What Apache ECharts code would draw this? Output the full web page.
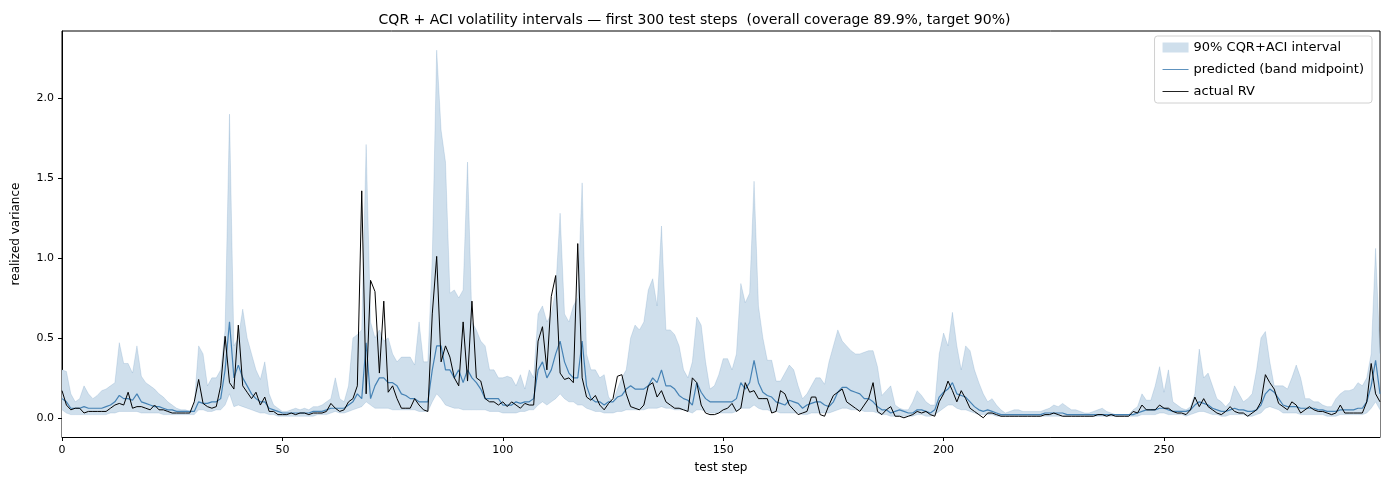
<!DOCTYPE html>
<html>
<head>
<meta charset="utf-8">
<script src="https://cdn.jsdelivr.net/npm/echarts@6/dist/echarts.min.js"></script>
<style>html,body{margin:0;padding:0;background:#fff}#chart{width:1389px;height:490px}</style>
</head>
<body>
<div id="chart"></div>
<script>
const actualRV = [
  .17,.08,.05,.06,.06,.03,.04,.04,.04,.04, .04,.06,.08,.09,.08,.16,.06,.07,.07,.06,
  .05,.08,.05,.05,.04,.03,.03,.03,.03,.03, .10,.24,.09,.07,.06,.07,.20,.51,.22,.18,
  .58,.20,.16,.12,.16,.08,.13,.04,.04,.02, .02,.02,.03,.02,.03,.03,.02,.03,.03,.03,
  .04,.09,.06,.04,.05,.10,.12,.20,1.42,.15, .86,.79,.28,.73,.16,.20,.12,.06,.06,.06,
  .12,.08,.05,.04,.65,1.01,.35,.45,.38,.25, .20,.60,.23,.73,.25,.23,.12,.10,.10,.08,
  .10,.07,.10,.08,.06,.09,.08,.08,.48,.57, .30,.76,.89,.28,.24,.25,.22,1.09,.25,.13,
  .11,.14,.08,.05,.09,.12,.26,.27,.15,.07, .06,.05,.08,.20,.22,.13,.17,.10,.08,.06,
  .06,.05,.04,.25,.22,.08,.03,.02,.02,.03, .05,.06,.09,.04,.06,.22,.16,.17,.12,.12,
  .12,.03,.04,.17,.15,.08,.05,.02,.03,.04, .13,.13,.02,.01,.08,.14,.16,.18,.10,.08,
  .06,.04,.08,.12,.22,.04,.02,.05,.07,.01, .01,.00,.01,.02,.04,.03,.04,.02,.01,.10,
  .15,.23,.17,.10,.17,.12,.06,.04,.02,.00, .03,.03,.02,.01,.01,.01,.01,.01,.01,.01,
  .01,.01,.01,.02,.02,.03,.02,.01,.01,.01, .01,.01,.01,.01,.01,.02,.02,.01,.02,.01,
  .01,.01,.01,.04,.03,.08,.05,.05,.05,.08, .06,.06,.04,.03,.03,.02,.05,.13,.07,.12,
  .07,.05,.03,.02,.04,.07,.04,.03,.03,.01, .03,.05,.10,.27,.22,.18,.09,.07,.05,.10,
  .08,.03,.05,.07,.05,.04,.04,.03,.02,.03, .08,.03,.03,.03,.03,.03,.10,.34,.15,.10
];
const predicted = [
  .12,.10,.06,.06,.06,.07,.06,.06,.06,.06, .07,.08,.10,.14,.12,.12,.11,.15,.10,.09,
  .08,.07,.07,.06,.05,.05,.04,.04,.04,.04, .04,.10,.09,.09,.10,.10,.12,.30,.60,.25,
  .33,.25,.20,.15,.12,.10,.10,.06,.05,.04, .03,.03,.03,.03,.03,.03,.03,.04,.04,.04,
  .05,.06,.06,.06,.06,.08,.10,.15,.12,.47, .12,.20,.25,.25,.22,.22,.20,.15,.14,.12,
  .12,.10,.10,.10,.30,.45,.45,.30,.30,.25, .30,.22,.30,.25,.22,.18,.12,.12,.12,.12,
  .08,.08,.08,.10,.09,.10,.10,.12,.30,.35, .25,.30,.40,.48,.35,.28,.25,.25,.48,.20,
  .12,.10,.10,.08,.10,.10,.13,.14,.18,.20, .18,.18,.18,.20,.25,.22,.30,.20,.20,.18,
  .14,.12,.11,.08,.22,.16,.12,.10,.10,.10, .10,.10,.10,.12,.22,.18,.22,.36,.22,.16,
  .14,.13,.10,.09,.08,.11,.10,.09,.06,.08, .09,.10,.10,.08,.07,.10,.16,.19,.19,.17,
  .16,.15,.12,.12,.10,.07,.05,.05,.03,.04, .05,.04,.03,.03,.05,.05,.04,.03,.05,.13,
  .16,.18,.22,.15,.14,.13,.10,.07,.05,.04, .05,.04,.03,.02,.02,.02,.02,.02,.02,.02,
  .02,.02,.02,.03,.03,.03,.03,.03,.02,.02, .02,.02,.02,.02,.02,.02,.02,.02,.02,.02,
  .02,.02,.02,.02,.03,.04,.05,.05,.05,.06, .06,.05,.04,.04,.04,.04,.05,.08,.10,.09,
  .08,.06,.05,.04,.04,.05,.06,.05,.05,.04, .04,.05,.08,.15,.18,.16,.12,.08,.07,.07,
  .07,.06,.06,.06,.06,.05,.05,.04,.04,.04, .05,.05,.05,.05,.06,.06,.10,.20,.36,.15
];
const upperBand = [
  .30,.29,.15,.10,.12,.20,.15,.12,.14,.17, .18,.20,.22,.47,.34,.34,.28,.45,.26,.22,
  .20,.18,.15,.13,.10,.08,.06,.05,.05,.04, .08,.45,.40,.20,.25,.25,.30,.55,1.90,.45,
  .50,.68,.50,.40,.30,.24,.35,.15,.08,.06, .04,.04,.05,.06,.05,.06,.05,.07,.07,.08,
  .10,.12,.25,.12,.10,.20,.50,.52,.55,1.71, .60,.50,.55,.48,.50,.40,.35,.38,.38,.38,
  .33,.60,.35,.35,1.00,2.30,1.80,1.60,.78,.80, .75,.80,1.60,.60,.55,.48,.45,.30,.30,.25,
  .25,.26,.25,.20,.27,.18,.30,.25,.65,.70, .60,.65,.80,1.28,.65,.60,.70,.75,1.47,.40,
  .30,.30,.25,.27,.13,.10,.18,.25,.30,.50, .58,.55,.60,.80,.87,.70,1.20,.55,.55,.52,
  .45,.30,.25,.35,.63,.58,.35,.18,.20,.27, .37,.37,.30,.40,.84,.72,.78,1.48,.70,.50,
  .36,.36,.23,.23,.28,.33,.30,.20,.12,.15, .20,.25,.25,.21,.35,.45,.55,.48,.45,.42,
  .40,.40,.41,.42,.42,.32,.14,.17,.20,.08, .06,.05,.05,.10,.17,.14,.10,.08,.08,.40,
  .53,.45,.66,.45,.30,.45,.42,.30,.22,.15, .10,.12,.08,.05,.03,.04,.05,.05,.04,.04,
  .04,.04,.04,.05,.06,.08,.07,.09,.07,.05, .05,.04,.03,.03,.04,.05,.06,.04,.03,.02,
  .02,.02,.02,.05,.07,.15,.11,.11,.20,.32, .16,.30,.10,.08,.06,.05,.07,.15,.43,.25,
  .28,.20,.12,.10,.07,.10,.20,.15,.10,.12, .15,.30,.50,.54,.35,.20,.20,.20,.18,.25,
  .33,.25,.12,.12,.10,.10,.08,.07,.07,.12, .15,.17,.17,.18,.22,.20,.25,.40,1.06,.40
];
const lowerBand = [
  .05,.03,.02,.02,.02,.02,.02,.02,.02,.02, .02,.03,.03,.04,.04,.04,.04,.04,.03,.03,
  .03,.03,.03,.02,.02,.02,.02,.02,.02,.02, .02,.05,.05,.04,.04,.05,.05,.08,.15,.07,
  .08,.07,.06,.05,.04,.03,.03,.02,.02,.01, .01,.01,.01,.01,.01,.01,.01,.01,.02,.02,
  .02,.03,.04,.03,.03,.04,.05,.06,.07,.10, .08,.06,.06,.06,.06,.05,.05,.05,.05,.05,
  .05,.04,.04,.04,.10,.15,.12,.08,.07,.06, .06,.05,.05,.05,.05,.05,.05,.04,.04,.04,
  .03,.03,.03,.03,.04,.04,.05,.05,.08,.10, .08,.10,.12,.15,.12,.10,.10,.08,.08,.06,
  .05,.04,.04,.03,.03,.03,.04,.04,.05,.05, .05,.05,.05,.06,.06,.06,.07,.06,.06,.05,
  .05,.05,.04,.03,.05,.05,.04,.03,.03,.03, .03,.03,.03,.04,.06,.06,.06,.08,.06,.05,
  .05,.04,.04,.03,.03,.03,.03,.03,.02,.02, .03,.03,.03,.03,.03,.04,.05,.06,.06,.05,
  .05,.05,.04,.04,.04,.03,.02,.02,.01,.01, .01,.01,.01,.01,.02,.02,.01,.01,.02,.04,
  .06,.08,.08,.06,.05,.05,.04,.03,.02,.02, .02,.02,.01,.01,.01,.01,.01,.01,.01,.01,
  .01,.01,.01,.01,.01,.01,.01,.01,.01,.01, .01,.01,.01,.01,.01,.01,.01,.01,.01,.01,
  .01,.01,.01,.01,.01,.02,.02,.02,.02,.03, .03,.02,.02,.02,.02,.01,.02,.03,.04,.04,
  .03,.02,.02,.01,.01,.02,.02,.02,.02,.01, .01,.02,.03,.06,.07,.06,.05,.03,.03,.03,
  .03,.02,.02,.02,.02,.02,.02,.01,.01,.01, .02,.02,.02,.02,.02,.02,.03,.06,.10,.05
];
const yTicks = [0, 0.5, 1.0, 1.5, 2.0];

const chart = echarts.init(document.getElementById('chart'));
const pts = arr => arr.map((v, i) => [i, v]);
const font = 'DejaVu Sans';
const bandColor = 'rgb(207,223,236)';
const lineIcon = 'path://M0,0H30V1H0Z';

chart.setOption({
    animation: false,
    backgroundColor: '#fff',
    textStyle: { fontFamily: font },
    title: {
        text: 'CQR + ACI volatility intervals \u2014 first 300 test steps  (overall coverage 89.9%, target 90%)',
        left: 'center', top: 8,
        textStyle: { fontFamily: font, fontSize: 14, fontWeight: 'normal', color: '#000' }
    },
    legend: {
        right: 17, top: 36, orient: 'vertical', itemGap: 9,
        itemWidth: 26, itemHeight: 10,
        backgroundColor: '#fff',
        borderColor: '#d0d0d0', borderWidth: 1, borderRadius: 3, padding: [5, 8, 5, 8],
        textStyle: { fontFamily: font, fontSize: 13, color: '#000' },
        data: [
            { name: '90% CQR+ACI interval', icon: 'rect', itemStyle: { color: bandColor } },
            { name: 'predicted (band midpoint)', icon: lineIcon, itemStyle: { color: '#4682b4' } },
            { name: 'actual RV', icon: lineIcon, itemStyle: { color: '#000' } }
        ]
    },
    grid: { left: 62, right: 9, top: 31, bottom: 53, show: true, borderColor: '#000', borderWidth: 1 },
    xAxis: {
        type: 'value', min: 0, max: 299, interval: 50,
        name: 'test step', nameLocation: 'middle', nameGap: 25,
        nameTextStyle: { fontFamily: font, fontSize: 12, color: '#000' },
        axisLine: { show: true, onZero: false, lineStyle: { color: '#000' } },
        axisTick: { show: true, length: 4, lineStyle: { color: '#000' } },
        axisLabel: { color: '#000', fontSize: 11, showMaxLabel: false },
        splitLine: { show: false }
    },
    yAxis: {
        type: 'value', min: -0.12, max: 2.42,
        name: 'realized variance', nameLocation: 'middle', nameGap: 40,
        nameTextStyle: { fontFamily: font, fontSize: 12, color: '#000' },
        axisLine: { show: true, lineStyle: { color: '#000' } },
        axisTick: { show: true, length: 4, customValues: yTicks, lineStyle: { color: '#000' } },
        axisLabel: { color: '#000', fontSize: 11, customValues: yTicks, formatter: v => v.toFixed(1) },
        splitLine: { show: false }
    },
    series: [
        {
            // band top, filled down to the axis floor
            name: '90% CQR+ACI interval', type: 'line', symbol: 'none',
            data: pts(upperBand), lineStyle: { width: 0.6, color: 'rgba(70,130,180,0.3)' },
            itemStyle: { color: bandColor },
            areaStyle: { color: bandColor, opacity: 1, origin: 'start' }
        },
        {
            // band bottom, white fill masks the part under the lower bound
            name: 'lower', type: 'line', symbol: 'none', silent: true,
            data: pts(lowerBand), lineStyle: { width: 0.6, color: 'rgba(70,130,180,0.3)' },
            areaStyle: { color: '#fff', opacity: 1, origin: 'start' }
        },
        {
            name: 'predicted (band midpoint)', type: 'line', symbol: 'none',
            data: pts(predicted), lineStyle: { width: 1.2, color: '#4682b4' }, itemStyle: { color: '#4682b4' }
        },
        {
            name: 'actual RV', type: 'line', symbol: 'none',
            data: pts(actualRV), lineStyle: { width: 1, color: '#000' }, itemStyle: { color: '#000' }
        }
    ]
});

window.addEventListener('resize', () => chart.resize());
</script>
</body>
</html>
